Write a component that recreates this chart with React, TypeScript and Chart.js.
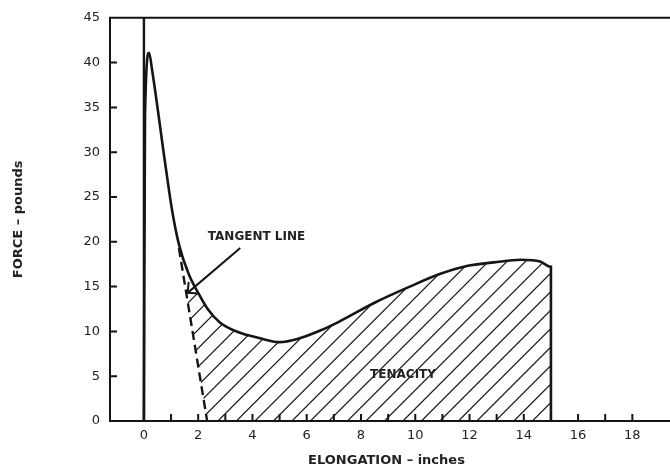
import { useEffect, useRef } from 'react';
import { Chart, registerables } from 'chart.js';

Chart.register(...registerables);

// Force–elongation curve (inches, pounds)
const curveX = [0, 0.04, 0.19, 0.3, 0.8, 1.05, 1.3, 1.65, 2.0, 2.35, 2.8, 3.49, 4.2, 5.0, 5.7, 6.5, 7.2, 8.5, 9.8, 10.9, 11.9, 12.9, 13.9, 14.6, 15.0, 15.0];
const curveY = [0, 34, 41.1, 39.2, 28.4, 23.3, 19.6, 16.4, 14.3, 12.5, 11.0, 9.9, 9.3, 8.8, 9.2, 10.1, 11.1, 13.2, 15.0, 16.4, 17.3, 17.7, 18.0, 17.8, 17.2, 0];

// vertical line at zero elongation
const zeroLineX = [0, 0];
const zeroLineY = [0, 45];

// dashed tangent line
const tangentX = [1.29, 2.33];
const tangentY = [19.3, 0];

// where the hatched area starts on the tangent line
const hatchCutX = [1.57, 2.0];
const hatchCutY = 14.2;

// annotation arrow
const arrowTail = [3.55, 19.3];
const arrowTip = [1.61, 14.3];

// text annotations
const annotations = [
  { text: 'TANGENT LINE', x: 4.15, y: 20.5 },
  { text: 'TENACITY', x: 9.55, y: 5.2 },
];

const xAxisTitle = 'ELONGATION – inches';
const yAxisTitle = 'FORCE – pounds';
const xRange = [-1.25, 19.13];
const yRange = [0, 45];
const xLabelValues = [0, 2, 4, 6, 8, 10, 12, 14, 16, 18];

const ink = '#151515';
const FONT = 'DejaVu Sans';

const toPts = (xs: number[], ys: number[]) => xs.map((x, i) => ({ x, y: ys[i] }));

const decorPlugin = {
  id: 'decor',
  afterDatasetsDraw(chart: any) {
    const { ctx, chartArea: a, scales } = chart;
    const xs = scales.x;
    const ys = scales.y;
    const W = chart.width;

    // ---- hatched tenacity area ----
    const line = chart.getDatasetMeta(0).dataset;
    ctx.save();
    const bx = xs.getPixelForValue(tangentX[1]);
    const by = ys.getPixelForValue(tangentY[1]);
    const tx = xs.getPixelForValue(hatchCutX[0]);
    const cx = xs.getPixelForValue(hatchCutX[1]);
    const cy = ys.getPixelForValue(hatchCutY);
    ctx.beginPath();
    ctx.moveTo(bx, by + 2);
    ctx.lineTo(bx, by);
    ctx.lineTo(tx, cy);
    ctx.lineTo(cx, cy);
    ctx.lineTo(cx, a.top);
    ctx.lineTo(W, a.top);
    ctx.lineTo(W, by + 2);
    ctx.closePath();
    ctx.clip();
    line.updateControlPoints(a, 'x');
    ctx.beginPath();
    line.path(ctx);
    ctx.closePath();
    ctx.clip();
    ctx.beginPath();
    ctx.lineWidth = 1.2;
    ctx.strokeStyle = '#1a1a1a';
    const sp = 18.5;
    const h = a.bottom - a.top;
    const anchor = xs.getPixelForValue(15);
    for (let k = -60; k < 60; k++) {
      const x0 = anchor + k * sp;
      ctx.moveTo(x0, a.bottom);
      ctx.lineTo(x0 + h, a.top);
    }
    ctx.stroke();
    ctx.restore();

    // ---- frame ----
    ctx.save();
    ctx.strokeStyle = ink;
    ctx.lineWidth = 2;
    ctx.beginPath();
    ctx.moveTo(a.left, a.bottom);
    ctx.lineTo(a.left, a.top);
    ctx.moveTo(a.left - 1, a.top);
    ctx.lineTo(W, a.top);
    ctx.moveTo(a.left - 1, a.bottom);
    ctx.lineTo(W, a.bottom);
    ctx.stroke();

    // inner tick marks
    const tl = 7;
    ctx.beginPath();
    xs.ticks.forEach((t: any) => {
      const v = t.value;
      if (Number.isInteger(v) && v >= 1) {
        const px = xs.getPixelForValue(v);
        ctx.moveTo(px, a.bottom);
        ctx.lineTo(px, a.bottom - tl);
      }
    });
    ys.ticks.forEach((t: any) => {
      const v = t.value;
      if (v > yRange[0] && v < yRange[1]) {
        const py = ys.getPixelForValue(v);
        ctx.moveTo(a.left, py);
        ctx.lineTo(a.left + tl, py);
      }
    });
    ctx.stroke();

    // ---- arrow ----
    const ax0 = xs.getPixelForValue(arrowTail[0]);
    const ay0 = ys.getPixelForValue(arrowTail[1]);
    const ax1 = xs.getPixelForValue(arrowTip[0]);
    const ay1 = ys.getPixelForValue(arrowTip[1]);
    ctx.lineWidth = 2;
    ctx.beginPath();
    ctx.moveTo(ax0, ay0);
    ctx.lineTo(ax1, ay1);
    const ang = Math.atan2(ay0 - ay1, ax0 - ax1);
    const hl = 11;
    const spread = (44 * Math.PI) / 180;
    ctx.moveTo(ax1 + hl * Math.cos(ang - spread), ay1 + hl * Math.sin(ang - spread));
    ctx.lineTo(ax1, ay1);
    ctx.lineTo(ax1 + hl * Math.cos(ang + spread), ay1 + hl * Math.sin(ang + spread));
    ctx.stroke();

    // ---- annotations ----
    ctx.fillStyle = '#222';
    ctx.font = `bold 12px "${FONT}"`;
    ctx.textAlign = 'center';
    ctx.textBaseline = 'middle';
    annotations.forEach((n) => {
      ctx.fillText(n.text, xs.getPixelForValue(n.x), ys.getPixelForValue(n.y));
    });
    ctx.restore();
  },
};

export default function App() {
  const ref = useRef<HTMLCanvasElement | null>(null);

  useEffect(() => {
    if (!ref.current) return;
    Chart.defaults.font.family = FONT;
    const chart = new Chart(ref.current, {
      type: 'line',
      data: {
        datasets: [
          {
            data: toPts(curveX, curveY),
            borderColor: ink,
            borderWidth: 2.6,
            pointRadius: 0,
            cubicInterpolationMode: 'monotone',
            fill: false,
          },
          {
            data: toPts(zeroLineX, zeroLineY),
            borderColor: ink,
            borderWidth: 2.4,
            pointRadius: 0,
            fill: false,
          },
          {
            data: toPts(tangentX, tangentY),
            borderColor: ink,
            borderWidth: 2.4,
            borderDash: [9, 5],
            pointRadius: 0,
            fill: false,
          },
        ],
      },
      options: {
        responsive: false,
        animation: false,
        devicePixelRatio: 1,
        layout: { padding: { top: 14, right: 0, bottom: 0, left: 0 } },
        plugins: {
          legend: { display: false },
          tooltip: { enabled: false },
        },
        scales: {
          x: {
            type: 'linear',
            min: xRange[0],
            max: xRange[1],
            grid: { display: false, drawTicks: false },
            border: { display: false },
            ticks: {
              stepSize: 1,
              autoSkip: false,
              maxRotation: 0,
              padding: 7,
              color: '#222',
              font: { size: 13, family: FONT },
              callback: (v: any) => (xLabelValues.includes(Number(v)) ? String(v) : ''),
            },
            title: {
              display: true,
              text: xAxisTitle,
              color: '#222',
              font: { size: 13, weight: 'bold', family: FONT, lineHeight: 1 },
              padding: { top: 0, bottom: 0 },
            },
            afterFit: (s: any) => {
              s.height = 46;
            },
          },
          y: {
            type: 'linear',
            min: yRange[0],
            max: yRange[1],
            grid: { display: false, drawTicks: false },
            border: { display: false },
            ticks: {
              stepSize: 5,
              padding: 10,
              color: '#222',
              font: { size: 13, family: FONT },
            },
            title: {
              display: true,
              text: yAxisTitle,
              color: '#222',
              font: { size: 13, weight: 'bold', family: FONT, lineHeight: 1 },
              padding: { top: 12.5, bottom: 0 },
            },
            afterFit: (s: any) => {
              s.width = 110;
            },
          },
        },
      },
      plugins: [decorPlugin],
    });
    return () => chart.destroy();
  }, []);

  return (
    <div style={{ position: 'fixed', left: 0, top: 0, width: 670, height: 467, background: '#fff' }}>
      <canvas ref={ref} width={670} height={467} style={{ display: 'block', width: 670, height: 467 }} />
    </div>
  );
}
